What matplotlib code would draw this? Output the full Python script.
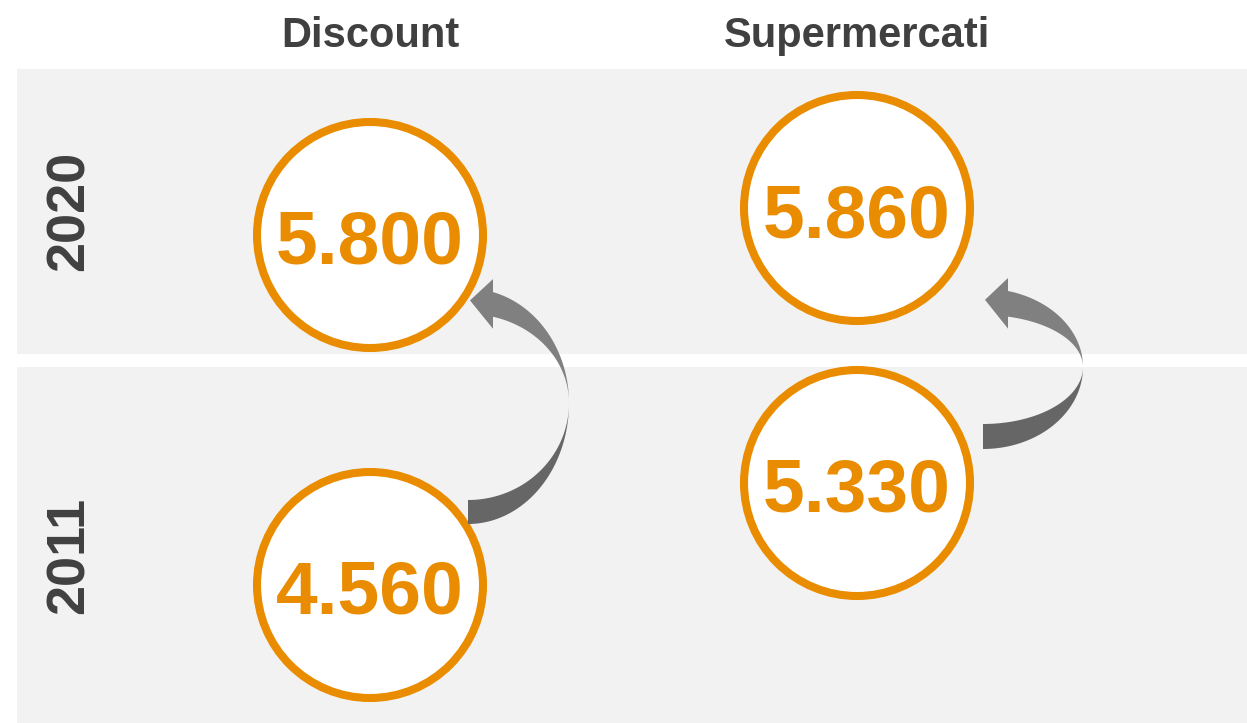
import numpy as np
import matplotlib.pyplot as plt
from matplotlib.patches import Rectangle, Circle, Polygon

plt.rcParams['font.family'] = ['Liberation Sans', 'DejaVu Sans']

# dati
categories = ['Discount', 'Supermercati']
years = ['2020', '2011']
discount = [5800, 4560]        # 2020, 2011
supermercati = [5860, 5330]    # 2020, 2011
values = [discount, supermercati]

ORANGE = '#EA8C00'
DARK = '#404040'
BAND = '#F2F2F2'

# layout (pixel)
W, H = 1247, 723
col_x = [370, 857]
row_label_y = [211, 555]
bands = [(69, 354), (367, 723)]
circle_y = [[235, 585], [208, 483]]   # per colonna: 2020, 2011
R = 113

fig = plt.figure(figsize=(W / 100, H / 100), dpi=100)
ax = fig.add_axes([0, 0, 1, 1])
ax.set_xlim(0, W)
ax.set_ylim(H, 0)
ax.axis('off')

for y0, y1 in bands:
    ax.add_patch(Rectangle((17, y0), W - 17, y1 - y0, facecolor=BAND, edgecolor='none', zorder=0))

for x, name in zip(col_x, categories):
    ax.text(x, 47, name, ha='center', va='baseline', fontsize=30,
            fontweight='bold', color=DARK)

for y, yr in zip(row_label_y, years):
    ax.text(84, y, yr, rotation=90, rotation_mode='anchor', ha='center',
            va='baseline', fontsize=39, fontweight='bold', color=DARK)

for ci, x in enumerate(col_x):
    for ri, v in enumerate(values[ci]):
        cy = circle_y[ci][ri]
        ax.add_patch(Circle((x, cy), R, facecolor='white', edgecolor=ORANGE,
                            lw=5.8, zorder=2))
        label = f"{v:,}".replace(',', '.')
        ax.text(x, cy + 29, label, ha='center', va='baseline', fontsize=54,
                fontweight='bold', color=ORANGE, zorder=3)


def curved_arrow(cx, cy, rx, lo_out, lo_in, up_out, up_in, head_dx=25, head_ext=13):
    # metà inferiore (coda)
    t = np.linspace(0, np.pi / 2, 60)
    outer = np.c_[cx + rx * np.sin(t), cy + lo_out * np.cos(t)]
    inner = np.c_[cx + rx * np.sin(t), cy + lo_in * np.cos(t)]
    ax.add_patch(Polygon(np.r_[outer, inner[::-1]], closed=True,
                         facecolor='#666666', edgecolor='none', zorder=4))
    # metà superiore (verso la punta)
    t_end = np.pi - np.arcsin(head_dx / rx)
    t = np.linspace(np.pi / 2, t_end, 60)
    outer = np.c_[cx + rx * np.sin(t), cy + up_out * np.cos(t)]
    inner = np.c_[cx + rx * np.sin(t), cy + up_in * np.cos(t)]
    ax.add_patch(Polygon(np.r_[outer, inner[::-1]], closed=True,
                         facecolor='#808080', edgecolor='none', zorder=4))
    bx = outer[-1, 0]
    yo, yi = outer[-1, 1], inner[-1, 1]
    tip = (cx + 2, (yo + yi) / 2 - 4)
    head = [(bx, yo - head_ext), tip, (bx, yi + head_ext - 1)]
    ax.add_patch(Polygon(head, closed=True, facecolor='#808080',
                         edgecolor='none', zorder=4))


curved_arrow(468, 403, 101, 121, 97, 114.5, 89)
curved_arrow(983, 367, 100, 82, 57, 78.5, 52)

fig.savefig('out.png', dpi=100, facecolor='white')
